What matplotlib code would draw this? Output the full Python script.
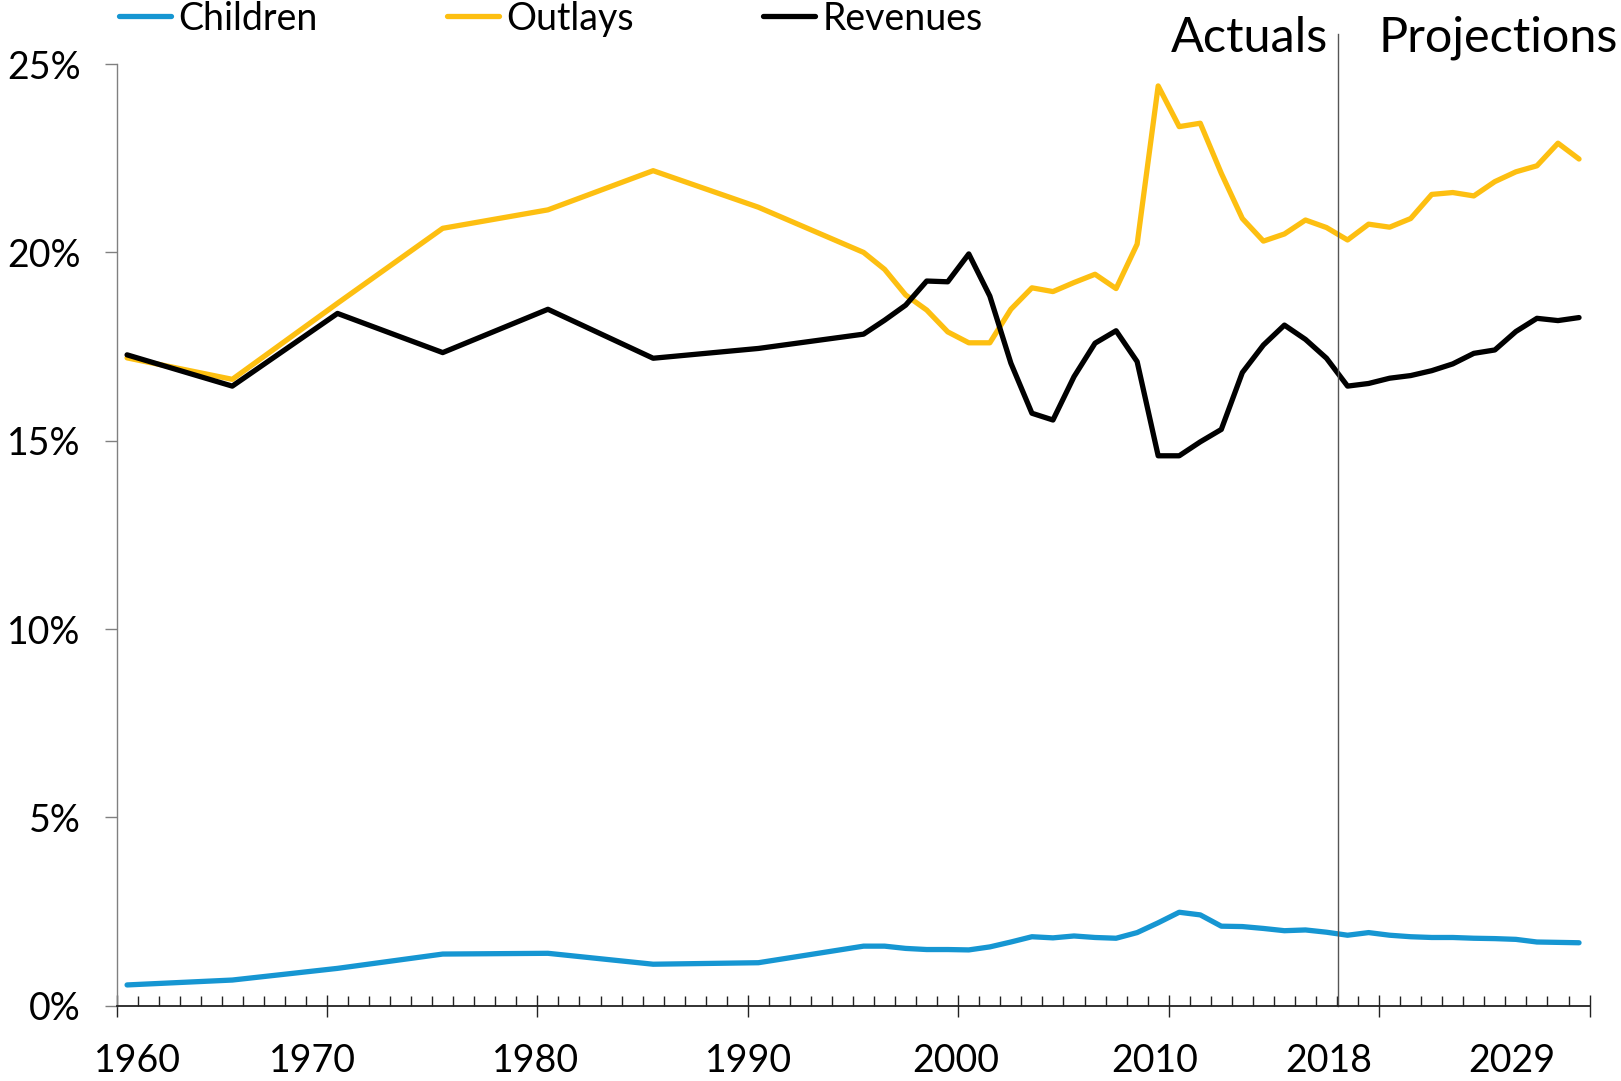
import matplotlib
matplotlib.use('Agg')
import matplotlib.pyplot as plt
from matplotlib.ticker import MultipleLocator, FuncFormatter

plt.rcParams['font.family'] = ['Lato', 'DejaVu Sans']

# Data (share of GDP, %)
years = [1960, 1965, 1970, 1975, 1980, 1985, 1990, 1995] + list(range(1996, 2030))

children = [0.55, 0.68, 0.99, 1.37, 1.39, 1.10, 1.14, 1.58,
            1.58, 1.52, 1.49, 1.49, 1.48, 1.56, 1.69, 1.83, 1.80, 1.85,
            1.81, 1.79, 1.94, 2.20, 2.48, 2.41, 2.11, 2.10, 2.05, 1.99,
            2.01, 1.95, 1.87, 1.94, 1.87, 1.83, 1.81, 1.81, 1.79, 1.78,
            1.76, 1.69, 1.68, 1.67]

outlays = [17.20, 16.63, 18.65, 20.64, 21.13, 22.17, 21.20, 20.00,
           19.55, 18.87, 18.47, 17.89, 17.60, 17.60, 18.49, 19.06, 18.96, 19.20,
           19.42, 19.04, 20.22, 24.42, 23.34, 23.43, 22.10, 20.90, 20.30, 20.49,
           20.86, 20.66, 20.33, 20.75, 20.67, 20.90, 21.54, 21.59, 21.50, 21.88,
           22.14, 22.30, 22.90, 22.48]

revenues = [17.28, 16.45, 18.38, 17.34, 18.49, 17.19, 17.45, 17.83,
            18.20, 18.60, 19.24, 19.22, 19.96, 18.84, 17.06, 15.73, 15.55, 16.70,
            17.59, 17.92, 17.10, 14.60, 14.60, 14.97, 15.30, 16.81, 17.54, 18.07,
            17.69, 17.19, 16.45, 16.52, 16.66, 16.73, 16.86, 17.04, 17.32, 17.41,
            17.90, 18.25, 18.19, 18.27]

tick_labels = ['1960', '1970', '1980', '1990', '2000', '2010', '2018', '2029']
label_pos = [1960.5, 1968.8, 1979.4, 1989.55, 1999.4, 2008.85, 2017.1, 2025.8]
split_year = 2017.55

BLUE, YELLOW, BLACK = '#1696D2', '#FDBF11', '#000000'

fig = plt.figure(figsize=(16.21, 10.81), dpi=100)
ax = fig.add_axes([0.0719, 0.0697, 0.9087, 0.871])

lw = 3.8
ax.plot(years, children, color=BLUE, lw=lw, label='Children', solid_capstyle='round')
ax.plot(years, outlays, color=YELLOW, lw=lw, label='Outlays', solid_capstyle='round')
ax.plot(years, revenues, color=BLACK, lw=lw, label='Revenues', solid_capstyle='round')

ax.set_xlim(1959.5, 2029.5)
ax.set_ylim(0, 25)

for s in ['top', 'right']:
    ax.spines[s].set_visible(False)
ax.spines['left'].set_color('#808080')
ax.spines['left'].set_linewidth(1.0)
ax.spines['bottom'].set_color('#222222')
ax.spines['bottom'].set_linewidth(1.3)

# y axis
ax.yaxis.set_major_locator(MultipleLocator(5))
ax.yaxis.set_major_formatter(FuncFormatter(lambda v, p: f'{v:.0f}%'))
ax.tick_params(axis='y', direction='out', length=9, width=1.0, color='#808080',
               labelsize=27, pad=17)

# x axis: ticks between categories, labels placed separately
ax.xaxis.set_major_locator(MultipleLocator(10, offset=9.5))
ax.xaxis.set_minor_locator(MultipleLocator(1, offset=0.5))
ax.tick_params(axis='x', which='major', direction='inout', length=16, width=1.0,
               color='#222222', labelbottom=False)
ax.tick_params(axis='x', which='minor', direction='in', length=7, width=1.0,
               color='#222222')

for lab, xp in zip(tick_labels, label_pos):
    ax.text(xp, -0.059, lab, transform=ax.get_xaxis_transform(),
            ha='center', va='center', fontsize=27)

# actuals / projections divider
ax.plot([split_year, split_year], [0, 25.8], color='#555555', lw=1.0, clip_on=False)
ax.text(2017.07, 25.33, 'Actuals', ha='right', va='baseline', fontsize=35)
ax.text(2019.45, 25.33, 'Projections', ha='left', va='baseline', fontsize=35)

fig.legend(loc='center left', bbox_to_anchor=(0.0734, 0.9828), ncol=3,
           frameon=False, fontsize=27, handlelength=1.39, handletextpad=0.19,
           columnspacing=3.45, borderpad=0, borderaxespad=0)

fig.savefig('out.png', dpi=100, facecolor='white')
